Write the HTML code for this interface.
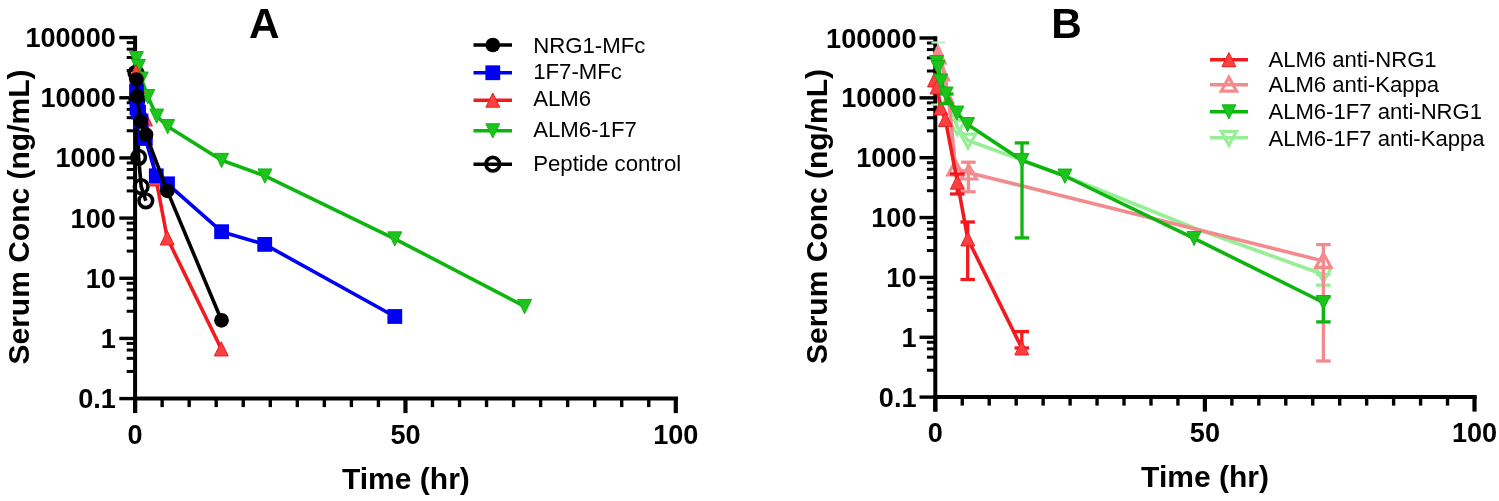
<!DOCTYPE html>
<html><head><meta charset="utf-8"><style>
html,body{margin:0;padding:0;background:#fff;width:1499px;height:501px;overflow:hidden;}
svg{display:block;font-family:"Liberation Sans", sans-serif;will-change:transform;filter:blur(0.45px);}
</style></head><body>
<svg width="1499" height="501" viewBox="0 0 1499 501" font-family='"Liberation Sans", sans-serif'>
<rect width="1499" height="501" fill="#fff"/>
<line x1="135.10" y1="35.80" x2="135.10" y2="413.10" stroke="#000" stroke-width="4" stroke-linecap="butt"/>
<line x1="133.10" y1="398.60" x2="678.00" y2="398.60" stroke="#000" stroke-width="4" stroke-linecap="butt"/>
<line x1="135.10" y1="398.60" x2="135.10" y2="413.10" stroke="#000" stroke-width="4.2" stroke-linecap="butt"/>
<line x1="162.13" y1="398.60" x2="162.13" y2="407.10" stroke="#000" stroke-width="3.4" stroke-linecap="butt"/>
<line x1="189.17" y1="398.60" x2="189.17" y2="407.10" stroke="#000" stroke-width="3.4" stroke-linecap="butt"/>
<line x1="216.20" y1="398.60" x2="216.20" y2="407.10" stroke="#000" stroke-width="3.4" stroke-linecap="butt"/>
<line x1="243.24" y1="398.60" x2="243.24" y2="407.10" stroke="#000" stroke-width="3.4" stroke-linecap="butt"/>
<line x1="270.27" y1="398.60" x2="270.27" y2="407.10" stroke="#000" stroke-width="3.4" stroke-linecap="butt"/>
<line x1="297.31" y1="398.60" x2="297.31" y2="407.10" stroke="#000" stroke-width="3.4" stroke-linecap="butt"/>
<line x1="324.34" y1="398.60" x2="324.34" y2="407.10" stroke="#000" stroke-width="3.4" stroke-linecap="butt"/>
<line x1="351.38" y1="398.60" x2="351.38" y2="407.10" stroke="#000" stroke-width="3.4" stroke-linecap="butt"/>
<line x1="378.41" y1="398.60" x2="378.41" y2="407.10" stroke="#000" stroke-width="3.4" stroke-linecap="butt"/>
<line x1="405.45" y1="398.60" x2="405.45" y2="413.10" stroke="#000" stroke-width="4.2" stroke-linecap="butt"/>
<line x1="432.48" y1="398.60" x2="432.48" y2="407.10" stroke="#000" stroke-width="3.4" stroke-linecap="butt"/>
<line x1="459.52" y1="398.60" x2="459.52" y2="407.10" stroke="#000" stroke-width="3.4" stroke-linecap="butt"/>
<line x1="486.55" y1="398.60" x2="486.55" y2="407.10" stroke="#000" stroke-width="3.4" stroke-linecap="butt"/>
<line x1="513.59" y1="398.60" x2="513.59" y2="407.10" stroke="#000" stroke-width="3.4" stroke-linecap="butt"/>
<line x1="540.62" y1="398.60" x2="540.62" y2="407.10" stroke="#000" stroke-width="3.4" stroke-linecap="butt"/>
<line x1="567.66" y1="398.60" x2="567.66" y2="407.10" stroke="#000" stroke-width="3.4" stroke-linecap="butt"/>
<line x1="594.69" y1="398.60" x2="594.69" y2="407.10" stroke="#000" stroke-width="3.4" stroke-linecap="butt"/>
<line x1="621.73" y1="398.60" x2="621.73" y2="407.10" stroke="#000" stroke-width="3.4" stroke-linecap="butt"/>
<line x1="648.76" y1="398.60" x2="648.76" y2="407.10" stroke="#000" stroke-width="3.4" stroke-linecap="butt"/>
<line x1="675.80" y1="398.60" x2="675.80" y2="413.10" stroke="#000" stroke-width="4.2" stroke-linecap="butt"/>
<line x1="119.30" y1="37.60" x2="135.10" y2="37.60" stroke="#000" stroke-width="3.4" stroke-linecap="butt"/>
<text x="115.80" y="47.10" font-size="27.1" font-weight="bold" text-anchor="end" >100000</text>
<line x1="126.70" y1="42.60" x2="135.10" y2="42.60" stroke="#000" stroke-width="3.0" stroke-linecap="butt"/>
<line x1="126.70" y1="49.20" x2="135.10" y2="49.20" stroke="#000" stroke-width="3.0" stroke-linecap="butt"/>
<line x1="126.70" y1="57.50" x2="135.10" y2="57.50" stroke="#000" stroke-width="3.0" stroke-linecap="butt"/>
<line x1="126.70" y1="70.60" x2="135.10" y2="70.60" stroke="#000" stroke-width="3.0" stroke-linecap="butt"/>
<line x1="119.30" y1="97.77" x2="135.10" y2="97.77" stroke="#000" stroke-width="3.4" stroke-linecap="butt"/>
<text x="115.80" y="107.27" font-size="27.1" font-weight="bold" text-anchor="end" >10000</text>
<line x1="126.70" y1="102.77" x2="135.10" y2="102.77" stroke="#000" stroke-width="3.0" stroke-linecap="butt"/>
<line x1="126.70" y1="109.37" x2="135.10" y2="109.37" stroke="#000" stroke-width="3.0" stroke-linecap="butt"/>
<line x1="126.70" y1="117.67" x2="135.10" y2="117.67" stroke="#000" stroke-width="3.0" stroke-linecap="butt"/>
<line x1="126.70" y1="130.77" x2="135.10" y2="130.77" stroke="#000" stroke-width="3.0" stroke-linecap="butt"/>
<line x1="119.30" y1="157.93" x2="135.10" y2="157.93" stroke="#000" stroke-width="3.4" stroke-linecap="butt"/>
<text x="115.80" y="167.43" font-size="27.1" font-weight="bold" text-anchor="end" >1000</text>
<line x1="126.70" y1="162.93" x2="135.10" y2="162.93" stroke="#000" stroke-width="3.0" stroke-linecap="butt"/>
<line x1="126.70" y1="169.53" x2="135.10" y2="169.53" stroke="#000" stroke-width="3.0" stroke-linecap="butt"/>
<line x1="126.70" y1="177.83" x2="135.10" y2="177.83" stroke="#000" stroke-width="3.0" stroke-linecap="butt"/>
<line x1="126.70" y1="190.93" x2="135.10" y2="190.93" stroke="#000" stroke-width="3.0" stroke-linecap="butt"/>
<line x1="119.30" y1="218.10" x2="135.10" y2="218.10" stroke="#000" stroke-width="3.4" stroke-linecap="butt"/>
<text x="115.80" y="227.60" font-size="27.1" font-weight="bold" text-anchor="end" >100</text>
<line x1="126.70" y1="223.10" x2="135.10" y2="223.10" stroke="#000" stroke-width="3.0" stroke-linecap="butt"/>
<line x1="126.70" y1="229.70" x2="135.10" y2="229.70" stroke="#000" stroke-width="3.0" stroke-linecap="butt"/>
<line x1="126.70" y1="238.00" x2="135.10" y2="238.00" stroke="#000" stroke-width="3.0" stroke-linecap="butt"/>
<line x1="126.70" y1="251.10" x2="135.10" y2="251.10" stroke="#000" stroke-width="3.0" stroke-linecap="butt"/>
<line x1="119.30" y1="278.27" x2="135.10" y2="278.27" stroke="#000" stroke-width="3.4" stroke-linecap="butt"/>
<text x="115.80" y="287.77" font-size="27.1" font-weight="bold" text-anchor="end" >10</text>
<line x1="126.70" y1="283.27" x2="135.10" y2="283.27" stroke="#000" stroke-width="3.0" stroke-linecap="butt"/>
<line x1="126.70" y1="289.87" x2="135.10" y2="289.87" stroke="#000" stroke-width="3.0" stroke-linecap="butt"/>
<line x1="126.70" y1="298.17" x2="135.10" y2="298.17" stroke="#000" stroke-width="3.0" stroke-linecap="butt"/>
<line x1="126.70" y1="311.27" x2="135.10" y2="311.27" stroke="#000" stroke-width="3.0" stroke-linecap="butt"/>
<line x1="119.30" y1="338.43" x2="135.10" y2="338.43" stroke="#000" stroke-width="3.4" stroke-linecap="butt"/>
<text x="115.80" y="347.93" font-size="27.1" font-weight="bold" text-anchor="end" >1</text>
<line x1="126.70" y1="343.43" x2="135.10" y2="343.43" stroke="#000" stroke-width="3.0" stroke-linecap="butt"/>
<line x1="126.70" y1="350.03" x2="135.10" y2="350.03" stroke="#000" stroke-width="3.0" stroke-linecap="butt"/>
<line x1="126.70" y1="358.33" x2="135.10" y2="358.33" stroke="#000" stroke-width="3.0" stroke-linecap="butt"/>
<line x1="126.70" y1="371.43" x2="135.10" y2="371.43" stroke="#000" stroke-width="3.0" stroke-linecap="butt"/>
<line x1="119.30" y1="398.60" x2="135.10" y2="398.60" stroke="#000" stroke-width="3.4" stroke-linecap="butt"/>
<text x="115.80" y="408.10" font-size="27.1" font-weight="bold" text-anchor="end" >0.1</text>
<text x="135.10" y="443.60" font-size="27.1" font-weight="bold" text-anchor="middle" >0</text>
<text x="405.45" y="443.60" font-size="27.1" font-weight="bold" text-anchor="middle" >50</text>
<text x="675.80" y="443.60" font-size="27.1" font-weight="bold" text-anchor="middle" >100</text>
<text x="264.20" y="37.50" font-size="42.3" font-weight="bold" text-anchor="middle" >A</text>
<text x="405.90" y="488.70" font-size="30" font-weight="bold" text-anchor="middle" >Time (hr)</text>
<text x="29.30" y="217.00" font-size="30" font-weight="bold" text-anchor="middle" transform="rotate(-90 29.3 217)">Serum Conc (ng/mL)</text>
<polyline points="136.00,73.00 137.00,100.00 138.60,157.30 141.20,186.60 145.80,200.80" fill="none" stroke="#000" stroke-width="3.6" stroke-linejoin="round" stroke-linecap="butt"/>
<circle cx="136.00" cy="73.00" r="6.80" fill="none" stroke="#000" stroke-width="3.6"/>
<circle cx="137.00" cy="100.00" r="6.80" fill="none" stroke="#000" stroke-width="3.6"/>
<circle cx="138.60" cy="157.30" r="6.80" fill="none" stroke="#000" stroke-width="3.6"/>
<circle cx="141.20" cy="186.60" r="6.80" fill="none" stroke="#000" stroke-width="3.6"/>
<circle cx="145.80" cy="200.80" r="6.80" fill="none" stroke="#000" stroke-width="3.6"/>
<polyline points="136.40,58.50 138.40,66.50 141.30,79.00 147.80,96.50 156.70,116.00 167.70,126.50 221.60,160.30 264.90,175.90 394.80,238.80 524.60,306.40" fill="none" stroke="#0fb50f" stroke-width="3.6" stroke-linejoin="round" stroke-linecap="butt"/>
<polygon points="129.45,51.55 143.35,51.55 136.40,65.75" fill="#1ec41e" stroke="#0fb50f" stroke-width="1" stroke-linejoin="miter"/>
<polygon points="131.45,59.55 145.35,59.55 138.40,73.75" fill="#1ec41e" stroke="#0fb50f" stroke-width="1" stroke-linejoin="miter"/>
<polygon points="134.35,72.05 148.25,72.05 141.30,86.25" fill="#1ec41e" stroke="#0fb50f" stroke-width="1" stroke-linejoin="miter"/>
<polygon points="140.85,89.55 154.75,89.55 147.80,103.75" fill="#1ec41e" stroke="#0fb50f" stroke-width="1" stroke-linejoin="miter"/>
<polygon points="149.75,109.05 163.65,109.05 156.70,123.25" fill="#1ec41e" stroke="#0fb50f" stroke-width="1" stroke-linejoin="miter"/>
<polygon points="160.75,119.55 174.65,119.55 167.70,133.75" fill="#1ec41e" stroke="#0fb50f" stroke-width="1" stroke-linejoin="miter"/>
<polygon points="214.65,153.35 228.55,153.35 221.60,167.55" fill="#1ec41e" stroke="#0fb50f" stroke-width="1" stroke-linejoin="miter"/>
<polygon points="257.95,168.95 271.85,168.95 264.90,183.15" fill="#1ec41e" stroke="#0fb50f" stroke-width="1" stroke-linejoin="miter"/>
<polygon points="387.85,231.85 401.75,231.85 394.80,246.05" fill="#1ec41e" stroke="#0fb50f" stroke-width="1" stroke-linejoin="miter"/>
<polygon points="517.65,299.45 531.55,299.45 524.60,313.65" fill="#1ec41e" stroke="#0fb50f" stroke-width="1" stroke-linejoin="miter"/>
<polyline points="136.00,72.00 137.50,86.00 139.00,102.00 145.50,119.00 156.00,179.00 167.20,238.00 221.30,349.00" fill="none" stroke="#f21a1e" stroke-width="3.6" stroke-linejoin="round" stroke-linecap="butt"/>
<polygon points="136.00,64.75 142.95,78.95 129.05,78.95" fill="#fa4040" stroke="#f21a1e" stroke-width="1" stroke-linejoin="miter"/>
<polygon points="137.50,78.75 144.45,92.95 130.55,92.95" fill="#fa4040" stroke="#f21a1e" stroke-width="1" stroke-linejoin="miter"/>
<polygon points="139.00,94.75 145.95,108.95 132.05,108.95" fill="#fa4040" stroke="#f21a1e" stroke-width="1" stroke-linejoin="miter"/>
<polygon points="145.50,111.75 152.45,125.95 138.55,125.95" fill="#fa4040" stroke="#f21a1e" stroke-width="1" stroke-linejoin="miter"/>
<polygon points="156.00,171.75 162.95,185.95 149.05,185.95" fill="#fa4040" stroke="#f21a1e" stroke-width="1" stroke-linejoin="miter"/>
<polygon points="167.20,230.75 174.15,244.95 160.25,244.95" fill="#fa4040" stroke="#f21a1e" stroke-width="1" stroke-linejoin="miter"/>
<polygon points="221.30,341.75 228.25,355.95 214.35,355.95" fill="#fa4040" stroke="#f21a1e" stroke-width="1" stroke-linejoin="miter"/>
<polyline points="136.50,91.00 137.00,108.00 138.50,112.00 141.00,121.00 145.30,138.50 156.30,175.80 167.50,183.80 221.60,231.70 264.70,244.40 394.80,316.50" fill="none" stroke="#0000f5" stroke-width="3.6" stroke-linejoin="round" stroke-linecap="butt"/>
<rect x="129.10" y="83.60" width="14.80" height="14.80" fill="#0000f5"/>
<rect x="129.60" y="100.60" width="14.80" height="14.80" fill="#0000f5"/>
<rect x="131.10" y="104.60" width="14.80" height="14.80" fill="#0000f5"/>
<rect x="133.60" y="113.60" width="14.80" height="14.80" fill="#0000f5"/>
<rect x="137.90" y="131.10" width="14.80" height="14.80" fill="#0000f5"/>
<rect x="148.90" y="168.40" width="14.80" height="14.80" fill="#0000f5"/>
<rect x="160.10" y="176.40" width="14.80" height="14.80" fill="#0000f5"/>
<rect x="214.20" y="224.30" width="14.80" height="14.80" fill="#0000f5"/>
<rect x="257.30" y="237.00" width="14.80" height="14.80" fill="#0000f5"/>
<rect x="387.40" y="309.10" width="14.80" height="14.80" fill="#0000f5"/>
<polyline points="136.40,79.50 137.10,96.30 140.60,121.50 146.00,134.70 167.30,190.90 221.50,320.30" fill="none" stroke="#000" stroke-width="3.6" stroke-linejoin="round" stroke-linecap="butt"/>
<circle cx="136.40" cy="79.50" r="7.35" fill="#000"/>
<circle cx="137.10" cy="96.30" r="7.35" fill="#000"/>
<circle cx="140.60" cy="121.50" r="7.35" fill="#000"/>
<circle cx="146.00" cy="134.70" r="7.35" fill="#000"/>
<circle cx="167.30" cy="190.90" r="7.35" fill="#000"/>
<circle cx="221.50" cy="320.30" r="7.35" fill="#000"/>
<line x1="473.50" y1="45.00" x2="512.00" y2="45.00" stroke="#000" stroke-width="3.6" stroke-linecap="butt"/>
<circle cx="492.80" cy="45.00" r="7.35" fill="#000"/>
<text x="533.20" y="53.00" font-size="22.2" font-weight="normal" text-anchor="start" >NRG1-MFc</text>
<line x1="473.50" y1="72.75" x2="512.00" y2="72.75" stroke="#0000f5" stroke-width="3.6" stroke-linecap="butt"/>
<rect x="485.40" y="65.35" width="14.80" height="14.80" fill="#0000f5"/>
<text x="533.20" y="79.40" font-size="22.2" font-weight="normal" text-anchor="start" >1F7-MFc</text>
<line x1="473.50" y1="100.25" x2="512.00" y2="100.25" stroke="#f21a1e" stroke-width="3.6" stroke-linecap="butt"/>
<polygon points="492.80,93.00 499.75,107.20 485.85,107.20" fill="#fa4040" stroke="#f21a1e" stroke-width="1" stroke-linejoin="miter"/>
<text x="533.20" y="106.40" font-size="22.2" font-weight="normal" text-anchor="start" >ALM6</text>
<line x1="473.50" y1="130.70" x2="512.00" y2="130.70" stroke="#0fb50f" stroke-width="3.6" stroke-linecap="butt"/>
<polygon points="485.85,123.75 499.75,123.75 492.80,137.95" fill="#1ec41e" stroke="#0fb50f" stroke-width="1" stroke-linejoin="miter"/>
<text x="533.20" y="137.20" font-size="22.2" font-weight="normal" text-anchor="start" >ALM6-1F7</text>
<line x1="473.50" y1="164.20" x2="512.00" y2="164.20" stroke="#000" stroke-width="3.6" stroke-linecap="butt"/>
<circle cx="492.80" cy="164.20" r="6.80" fill="none" stroke="#000" stroke-width="3.6"/>
<text x="533.20" y="170.80" font-size="22.2" font-weight="normal" text-anchor="start" >Peptide control</text>
<line x1="935.30" y1="36.20" x2="935.30" y2="411.60" stroke="#000" stroke-width="4" stroke-linecap="butt"/>
<line x1="933.30" y1="397.10" x2="1476.70" y2="397.10" stroke="#000" stroke-width="4" stroke-linecap="butt"/>
<line x1="935.30" y1="397.10" x2="935.30" y2="411.60" stroke="#000" stroke-width="4.2" stroke-linecap="butt"/>
<line x1="962.26" y1="397.10" x2="962.26" y2="405.60" stroke="#000" stroke-width="3.4" stroke-linecap="butt"/>
<line x1="989.22" y1="397.10" x2="989.22" y2="405.60" stroke="#000" stroke-width="3.4" stroke-linecap="butt"/>
<line x1="1016.18" y1="397.10" x2="1016.18" y2="405.60" stroke="#000" stroke-width="3.4" stroke-linecap="butt"/>
<line x1="1043.14" y1="397.10" x2="1043.14" y2="405.60" stroke="#000" stroke-width="3.4" stroke-linecap="butt"/>
<line x1="1070.10" y1="397.10" x2="1070.10" y2="405.60" stroke="#000" stroke-width="3.4" stroke-linecap="butt"/>
<line x1="1097.06" y1="397.10" x2="1097.06" y2="405.60" stroke="#000" stroke-width="3.4" stroke-linecap="butt"/>
<line x1="1124.02" y1="397.10" x2="1124.02" y2="405.60" stroke="#000" stroke-width="3.4" stroke-linecap="butt"/>
<line x1="1150.98" y1="397.10" x2="1150.98" y2="405.60" stroke="#000" stroke-width="3.4" stroke-linecap="butt"/>
<line x1="1177.94" y1="397.10" x2="1177.94" y2="405.60" stroke="#000" stroke-width="3.4" stroke-linecap="butt"/>
<line x1="1204.90" y1="397.10" x2="1204.90" y2="411.60" stroke="#000" stroke-width="4.2" stroke-linecap="butt"/>
<line x1="1231.86" y1="397.10" x2="1231.86" y2="405.60" stroke="#000" stroke-width="3.4" stroke-linecap="butt"/>
<line x1="1258.82" y1="397.10" x2="1258.82" y2="405.60" stroke="#000" stroke-width="3.4" stroke-linecap="butt"/>
<line x1="1285.78" y1="397.10" x2="1285.78" y2="405.60" stroke="#000" stroke-width="3.4" stroke-linecap="butt"/>
<line x1="1312.74" y1="397.10" x2="1312.74" y2="405.60" stroke="#000" stroke-width="3.4" stroke-linecap="butt"/>
<line x1="1339.70" y1="397.10" x2="1339.70" y2="405.60" stroke="#000" stroke-width="3.4" stroke-linecap="butt"/>
<line x1="1366.66" y1="397.10" x2="1366.66" y2="405.60" stroke="#000" stroke-width="3.4" stroke-linecap="butt"/>
<line x1="1393.62" y1="397.10" x2="1393.62" y2="405.60" stroke="#000" stroke-width="3.4" stroke-linecap="butt"/>
<line x1="1420.58" y1="397.10" x2="1420.58" y2="405.60" stroke="#000" stroke-width="3.4" stroke-linecap="butt"/>
<line x1="1447.54" y1="397.10" x2="1447.54" y2="405.60" stroke="#000" stroke-width="3.4" stroke-linecap="butt"/>
<line x1="1474.50" y1="397.10" x2="1474.50" y2="411.60" stroke="#000" stroke-width="4.2" stroke-linecap="butt"/>
<line x1="919.50" y1="38.00" x2="935.30" y2="38.00" stroke="#000" stroke-width="3.4" stroke-linecap="butt"/>
<text x="916.50" y="47.50" font-size="27.1" font-weight="bold" text-anchor="end" >100000</text>
<line x1="926.90" y1="43.00" x2="935.30" y2="43.00" stroke="#000" stroke-width="3.0" stroke-linecap="butt"/>
<line x1="926.90" y1="49.60" x2="935.30" y2="49.60" stroke="#000" stroke-width="3.0" stroke-linecap="butt"/>
<line x1="926.90" y1="57.90" x2="935.30" y2="57.90" stroke="#000" stroke-width="3.0" stroke-linecap="butt"/>
<line x1="926.90" y1="71.00" x2="935.30" y2="71.00" stroke="#000" stroke-width="3.0" stroke-linecap="butt"/>
<line x1="919.50" y1="97.85" x2="935.30" y2="97.85" stroke="#000" stroke-width="3.4" stroke-linecap="butt"/>
<text x="916.50" y="107.35" font-size="27.1" font-weight="bold" text-anchor="end" >10000</text>
<line x1="926.90" y1="102.85" x2="935.30" y2="102.85" stroke="#000" stroke-width="3.0" stroke-linecap="butt"/>
<line x1="926.90" y1="109.45" x2="935.30" y2="109.45" stroke="#000" stroke-width="3.0" stroke-linecap="butt"/>
<line x1="926.90" y1="117.75" x2="935.30" y2="117.75" stroke="#000" stroke-width="3.0" stroke-linecap="butt"/>
<line x1="926.90" y1="130.85" x2="935.30" y2="130.85" stroke="#000" stroke-width="3.0" stroke-linecap="butt"/>
<line x1="919.50" y1="157.70" x2="935.30" y2="157.70" stroke="#000" stroke-width="3.4" stroke-linecap="butt"/>
<text x="916.50" y="167.20" font-size="27.1" font-weight="bold" text-anchor="end" >1000</text>
<line x1="926.90" y1="162.70" x2="935.30" y2="162.70" stroke="#000" stroke-width="3.0" stroke-linecap="butt"/>
<line x1="926.90" y1="169.30" x2="935.30" y2="169.30" stroke="#000" stroke-width="3.0" stroke-linecap="butt"/>
<line x1="926.90" y1="177.60" x2="935.30" y2="177.60" stroke="#000" stroke-width="3.0" stroke-linecap="butt"/>
<line x1="926.90" y1="190.70" x2="935.30" y2="190.70" stroke="#000" stroke-width="3.0" stroke-linecap="butt"/>
<line x1="919.50" y1="217.55" x2="935.30" y2="217.55" stroke="#000" stroke-width="3.4" stroke-linecap="butt"/>
<text x="916.50" y="227.05" font-size="27.1" font-weight="bold" text-anchor="end" >100</text>
<line x1="926.90" y1="222.55" x2="935.30" y2="222.55" stroke="#000" stroke-width="3.0" stroke-linecap="butt"/>
<line x1="926.90" y1="229.15" x2="935.30" y2="229.15" stroke="#000" stroke-width="3.0" stroke-linecap="butt"/>
<line x1="926.90" y1="237.45" x2="935.30" y2="237.45" stroke="#000" stroke-width="3.0" stroke-linecap="butt"/>
<line x1="926.90" y1="250.55" x2="935.30" y2="250.55" stroke="#000" stroke-width="3.0" stroke-linecap="butt"/>
<line x1="919.50" y1="277.40" x2="935.30" y2="277.40" stroke="#000" stroke-width="3.4" stroke-linecap="butt"/>
<text x="916.50" y="286.90" font-size="27.1" font-weight="bold" text-anchor="end" >10</text>
<line x1="926.90" y1="282.40" x2="935.30" y2="282.40" stroke="#000" stroke-width="3.0" stroke-linecap="butt"/>
<line x1="926.90" y1="289.00" x2="935.30" y2="289.00" stroke="#000" stroke-width="3.0" stroke-linecap="butt"/>
<line x1="926.90" y1="297.30" x2="935.30" y2="297.30" stroke="#000" stroke-width="3.0" stroke-linecap="butt"/>
<line x1="926.90" y1="310.40" x2="935.30" y2="310.40" stroke="#000" stroke-width="3.0" stroke-linecap="butt"/>
<line x1="919.50" y1="337.25" x2="935.30" y2="337.25" stroke="#000" stroke-width="3.4" stroke-linecap="butt"/>
<text x="916.50" y="346.75" font-size="27.1" font-weight="bold" text-anchor="end" >1</text>
<line x1="926.90" y1="342.25" x2="935.30" y2="342.25" stroke="#000" stroke-width="3.0" stroke-linecap="butt"/>
<line x1="926.90" y1="348.85" x2="935.30" y2="348.85" stroke="#000" stroke-width="3.0" stroke-linecap="butt"/>
<line x1="926.90" y1="357.15" x2="935.30" y2="357.15" stroke="#000" stroke-width="3.0" stroke-linecap="butt"/>
<line x1="926.90" y1="370.25" x2="935.30" y2="370.25" stroke="#000" stroke-width="3.0" stroke-linecap="butt"/>
<line x1="919.50" y1="397.10" x2="935.30" y2="397.10" stroke="#000" stroke-width="3.4" stroke-linecap="butt"/>
<text x="916.50" y="406.60" font-size="27.1" font-weight="bold" text-anchor="end" >0.1</text>
<text x="935.30" y="442.10" font-size="27.1" font-weight="bold" text-anchor="middle" >0</text>
<text x="1204.90" y="442.10" font-size="27.1" font-weight="bold" text-anchor="middle" >50</text>
<text x="1474.50" y="442.10" font-size="27.1" font-weight="bold" text-anchor="middle" >100</text>
<text x="1066.50" y="37.50" font-size="42.3" font-weight="bold" text-anchor="middle" >B</text>
<text x="1205.00" y="487.20" font-size="30" font-weight="bold" text-anchor="middle" >Time (hr)</text>
<text x="827.00" y="216.50" font-size="30" font-weight="bold" text-anchor="middle" transform="rotate(-90 827 216.5)">Serum Conc (ng/mL)</text>
<line x1="931.50" y1="42.50" x2="945.00" y2="42.50" stroke="#b8f4b8" stroke-width="2.2" stroke-linecap="butt"/>
<line x1="931.00" y1="104.60" x2="940.00" y2="104.60" stroke="#b8f4b8" stroke-width="2.2" stroke-linecap="butt"/>
<line x1="1323.40" y1="285.20" x2="1323.40" y2="274.50" stroke="#96ee96" stroke-width="3.3" stroke-linecap="butt"/>
<line x1="1316.15" y1="285.20" x2="1330.65" y2="285.20" stroke="#96ee96" stroke-width="3.3" stroke-linecap="butt"/>
<line x1="1316.15" y1="274.50" x2="1330.65" y2="274.50" stroke="#96ee96" stroke-width="3.3" stroke-linecap="butt"/>
<polyline points="937.50,47.00 939.00,57.00 941.00,72.00 946.10,92.00 957.20,127.00 968.00,140.50 1022.00,160.00 1065.00,176.00 1194.10,228.00 1323.40,274.50" fill="none" stroke="#96ee96" stroke-width="3.6" stroke-linejoin="round" stroke-linecap="butt"/>
<polygon points="949.60,120.70 964.80,120.70 957.20,134.50" fill="none" stroke="#96ee96" stroke-width="3.2" stroke-linejoin="miter" stroke-miterlimit="3"/>
<polygon points="960.40,134.20 975.60,134.20 968.00,148.00" fill="none" stroke="#96ee96" stroke-width="3.2" stroke-linejoin="miter" stroke-miterlimit="3"/>
<polygon points="1315.80,268.20 1331.00,268.20 1323.40,282.00" fill="none" stroke="#96ee96" stroke-width="3.2" stroke-linejoin="miter" stroke-miterlimit="3"/>
<line x1="1323.40" y1="244.60" x2="1323.40" y2="361.00" stroke="#f38a8e" stroke-width="3.3" stroke-linecap="butt"/>
<line x1="1316.15" y1="244.60" x2="1330.65" y2="244.60" stroke="#f38a8e" stroke-width="3.3" stroke-linecap="butt"/>
<line x1="1316.15" y1="361.00" x2="1330.65" y2="361.00" stroke="#f38a8e" stroke-width="3.3" stroke-linecap="butt"/>
<line x1="968.40" y1="162.20" x2="968.40" y2="191.80" stroke="#f38a8e" stroke-width="3.3" stroke-linecap="butt"/>
<line x1="961.15" y1="162.20" x2="975.65" y2="162.20" stroke="#f38a8e" stroke-width="3.3" stroke-linecap="butt"/>
<line x1="961.15" y1="191.80" x2="975.65" y2="191.80" stroke="#f38a8e" stroke-width="3.3" stroke-linecap="butt"/>
<polyline points="938.00,50.00 941.00,58.00 944.50,75.00 948.50,97.00 955.50,168.50 968.80,172.70 1323.40,261.00" fill="none" stroke="#f38a8e" stroke-width="3.6" stroke-linejoin="round" stroke-linecap="butt"/>
<polygon points="938.00,43.20 944.50,56.50 931.50,56.50" fill="#f38a8e"/>
<polygon points="941.00,51.20 947.50,64.50 934.50,64.50" fill="#f38a8e"/>
<polygon points="944.50,68.20 951.00,81.50 938.00,81.50" fill="#f38a8e"/>
<polygon points="948.50,90.20 955.00,103.50 942.00,103.50" fill="#f38a8e"/>
<polygon points="955.50,161.00 963.10,174.80 947.90,174.80" fill="none" stroke="#f38a8e" stroke-width="3.2" stroke-linejoin="miter" stroke-miterlimit="3"/>
<polygon points="968.80,165.20 976.40,179.00 961.20,179.00" fill="none" stroke="#f38a8e" stroke-width="3.2" stroke-linejoin="miter" stroke-miterlimit="3"/>
<polygon points="1323.40,253.50 1331.00,267.30 1315.80,267.30" fill="none" stroke="#f38a8e" stroke-width="3.2" stroke-linejoin="miter" stroke-miterlimit="3"/>
<line x1="957.20" y1="173.90" x2="957.20" y2="194.00" stroke="#f21a1e" stroke-width="3.3" stroke-linecap="butt"/>
<line x1="949.95" y1="173.90" x2="964.45" y2="173.90" stroke="#f21a1e" stroke-width="3.3" stroke-linecap="butt"/>
<line x1="949.95" y1="194.00" x2="964.45" y2="194.00" stroke="#f21a1e" stroke-width="3.3" stroke-linecap="butt"/>
<line x1="967.70" y1="222.00" x2="967.70" y2="279.50" stroke="#f21a1e" stroke-width="3.3" stroke-linecap="butt"/>
<line x1="960.45" y1="222.00" x2="974.95" y2="222.00" stroke="#f21a1e" stroke-width="3.3" stroke-linecap="butt"/>
<line x1="960.45" y1="279.50" x2="974.95" y2="279.50" stroke="#f21a1e" stroke-width="3.3" stroke-linecap="butt"/>
<line x1="1021.80" y1="331.60" x2="1021.80" y2="348.00" stroke="#f21a1e" stroke-width="3.3" stroke-linecap="butt"/>
<line x1="1014.55" y1="331.60" x2="1029.05" y2="331.60" stroke="#f21a1e" stroke-width="3.3" stroke-linecap="butt"/>
<line x1="1014.55" y1="348.00" x2="1029.05" y2="348.00" stroke="#f21a1e" stroke-width="3.3" stroke-linecap="butt"/>
<polyline points="934.50,80.00 937.00,87.00 940.80,108.00 945.40,119.50 957.40,182.20 967.80,239.00 1021.80,348.00" fill="none" stroke="#f21a1e" stroke-width="3.6" stroke-linejoin="round" stroke-linecap="butt"/>
<polygon points="934.50,72.75 941.45,86.95 927.55,86.95" fill="#fa4040" stroke="#f21a1e" stroke-width="1" stroke-linejoin="miter"/>
<polygon points="937.00,79.75 943.95,93.95 930.05,93.95" fill="#fa4040" stroke="#f21a1e" stroke-width="1" stroke-linejoin="miter"/>
<polygon points="940.80,100.75 947.75,114.95 933.85,114.95" fill="#fa4040" stroke="#f21a1e" stroke-width="1" stroke-linejoin="miter"/>
<polygon points="945.40,112.25 952.35,126.45 938.45,126.45" fill="#fa4040" stroke="#f21a1e" stroke-width="1" stroke-linejoin="miter"/>
<polygon points="957.40,174.95 964.35,189.15 950.45,189.15" fill="#fa4040" stroke="#f21a1e" stroke-width="1" stroke-linejoin="miter"/>
<polygon points="967.80,231.75 974.75,245.95 960.85,245.95" fill="#fa4040" stroke="#f21a1e" stroke-width="1" stroke-linejoin="miter"/>
<polygon points="1021.80,340.75 1028.75,354.95 1014.85,354.95" fill="#fa4040" stroke="#f21a1e" stroke-width="1" stroke-linejoin="miter"/>
<line x1="1022.00" y1="142.90" x2="1022.00" y2="237.90" stroke="#0fb50f" stroke-width="3.3" stroke-linecap="butt"/>
<line x1="1014.75" y1="142.90" x2="1029.25" y2="142.90" stroke="#0fb50f" stroke-width="3.3" stroke-linecap="butt"/>
<line x1="1014.75" y1="237.90" x2="1029.25" y2="237.90" stroke="#0fb50f" stroke-width="3.3" stroke-linecap="butt"/>
<line x1="946.30" y1="103.70" x2="946.30" y2="94.00" stroke="#0fb50f" stroke-width="3.3" stroke-linecap="butt"/>
<line x1="939.05" y1="103.70" x2="953.55" y2="103.70" stroke="#0fb50f" stroke-width="3.3" stroke-linecap="butt"/>
<line x1="939.05" y1="94.00" x2="953.55" y2="94.00" stroke="#0fb50f" stroke-width="3.3" stroke-linecap="butt"/>
<line x1="1323.40" y1="297.00" x2="1323.40" y2="321.90" stroke="#0fb50f" stroke-width="3.3" stroke-linecap="butt"/>
<line x1="1316.15" y1="297.00" x2="1330.65" y2="297.00" stroke="#0fb50f" stroke-width="3.3" stroke-linecap="butt"/>
<line x1="1316.15" y1="321.90" x2="1330.65" y2="321.90" stroke="#0fb50f" stroke-width="3.3" stroke-linecap="butt"/>
<polyline points="936.60,62.50 938.00,67.50 940.80,81.00 946.10,94.00 956.90,113.00 967.60,124.50 1022.00,160.40 1064.90,176.00 1194.10,238.40 1323.40,302.50" fill="none" stroke="#0fb50f" stroke-width="3.6" stroke-linejoin="round" stroke-linecap="butt"/>
<polygon points="929.65,55.55 943.55,55.55 936.60,69.75" fill="#1ec41e" stroke="#0fb50f" stroke-width="1" stroke-linejoin="miter"/>
<polygon points="931.05,60.55 944.95,60.55 938.00,74.75" fill="#1ec41e" stroke="#0fb50f" stroke-width="1" stroke-linejoin="miter"/>
<polygon points="933.85,74.05 947.75,74.05 940.80,88.25" fill="#1ec41e" stroke="#0fb50f" stroke-width="1" stroke-linejoin="miter"/>
<polygon points="939.15,87.05 953.05,87.05 946.10,101.25" fill="#1ec41e" stroke="#0fb50f" stroke-width="1" stroke-linejoin="miter"/>
<polygon points="949.95,106.05 963.85,106.05 956.90,120.25" fill="#1ec41e" stroke="#0fb50f" stroke-width="1" stroke-linejoin="miter"/>
<polygon points="960.65,117.55 974.55,117.55 967.60,131.75" fill="#1ec41e" stroke="#0fb50f" stroke-width="1" stroke-linejoin="miter"/>
<polygon points="1015.05,153.45 1028.95,153.45 1022.00,167.65" fill="#1ec41e" stroke="#0fb50f" stroke-width="1" stroke-linejoin="miter"/>
<polygon points="1057.95,169.05 1071.85,169.05 1064.90,183.25" fill="#1ec41e" stroke="#0fb50f" stroke-width="1" stroke-linejoin="miter"/>
<polygon points="1187.15,231.45 1201.05,231.45 1194.10,245.65" fill="#1ec41e" stroke="#0fb50f" stroke-width="1" stroke-linejoin="miter"/>
<polygon points="1316.45,295.55 1330.35,295.55 1323.40,309.75" fill="#1ec41e" stroke="#0fb50f" stroke-width="1" stroke-linejoin="miter"/>
<line x1="1210.00" y1="59.75" x2="1248.00" y2="59.75" stroke="#f21a1e" stroke-width="3.6" stroke-linecap="butt"/>
<polygon points="1228.90,52.50 1235.85,66.70 1221.95,66.70" fill="#fa4040" stroke="#f21a1e" stroke-width="1" stroke-linejoin="miter"/>
<text x="1268.40" y="67.00" font-size="22.1" font-weight="normal" text-anchor="start" >ALM6 anti-NRG1</text>
<line x1="1210.00" y1="84.75" x2="1248.00" y2="84.75" stroke="#f38a8e" stroke-width="3.6" stroke-linecap="butt"/>
<polygon points="1228.90,77.25 1236.50,91.05 1221.30,91.05" fill="none" stroke="#f38a8e" stroke-width="3.2" stroke-linejoin="miter" stroke-miterlimit="3"/>
<text x="1268.40" y="92.20" font-size="22.1" font-weight="normal" text-anchor="start" >ALM6 anti-Kappa</text>
<line x1="1210.00" y1="111.80" x2="1248.00" y2="111.80" stroke="#0fb50f" stroke-width="3.6" stroke-linecap="butt"/>
<polygon points="1221.95,104.85 1235.85,104.85 1228.90,119.05" fill="#1ec41e" stroke="#0fb50f" stroke-width="1" stroke-linejoin="miter"/>
<text x="1268.40" y="119.40" font-size="22.1" font-weight="normal" text-anchor="start" >ALM6-1F7 anti-NRG1</text>
<line x1="1210.00" y1="137.70" x2="1248.00" y2="137.70" stroke="#96ee96" stroke-width="3.6" stroke-linecap="butt"/>
<polygon points="1221.30,131.40 1236.50,131.40 1228.90,145.20" fill="none" stroke="#96ee96" stroke-width="3.2" stroke-linejoin="miter" stroke-miterlimit="3"/>
<text x="1268.40" y="145.60" font-size="22.1" font-weight="normal" text-anchor="start" >ALM6-1F7 anti-Kappa</text>
</svg>
</body></html>
